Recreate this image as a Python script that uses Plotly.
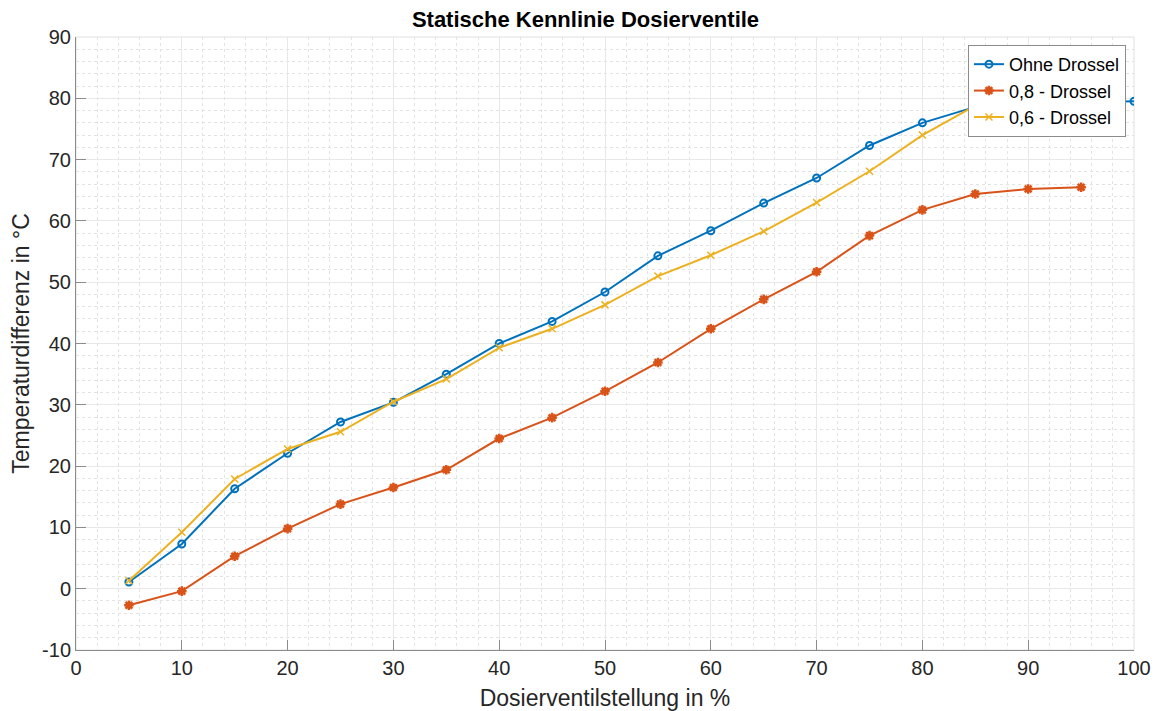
import plotly.graph_objects as go

x_blue = [5, 10, 15, 20, 25, 30, 35, 40, 45, 50, 55, 60, 65, 70, 75, 80, 85, 90, 95, 100]
y_blue = [1.1, 7.3, 16.3, 22.1, 27.2, 30.4, 35.0, 40.0, 43.6, 48.4, 54.3, 58.4, 62.9, 67.0, 72.3, 76.0, 78.6, 79.0, 79.3, 79.5]

x_red = [5, 10, 15, 20, 25, 30, 35, 40, 45, 50, 55, 60, 65, 70, 75, 80, 85, 90, 95]
y_red = [-2.7, -0.4, 5.3, 9.8, 13.8, 16.5, 19.4, 24.5, 27.9, 32.2, 36.9, 42.4, 47.2, 51.7, 57.6, 61.8, 64.4, 65.2, 65.5]

x_yel = [5, 10, 15, 20, 25, 30, 35, 40, 45, 50, 55, 60, 65, 70, 75, 80, 85]
y_yel = [1.3, 9.2, 17.9, 22.8, 25.6, 30.5, 34.2, 39.3, 42.4, 46.3, 51.0, 54.4, 58.3, 63.0, 68.1, 74.0, 78.8]

names = ["Ohne Drossel", "0,8 - Drossel", "0,6 - Drossel"]
x_ticks = list(range(0, 101, 10))
y_ticks = list(range(-10, 91, 10))
y_ticklabels = [str(v) for v in y_ticks]

font = "Liberation Sans, Arial, Helvetica, sans-serif"

fig = go.Figure()
fig.add_trace(go.Scatter(x=x_blue, y=y_blue, name=names[0], mode="lines+markers",
                         line=dict(color="#0072BD", width=2),
                         marker=dict(symbol="circle-open", size=7, color="#0072BD", line=dict(width=2))))
fig.add_trace(go.Scatter(x=x_red, y=y_red, name=names[1], mode="lines+markers",
                         line=dict(color="#D95319", width=2),
                         marker=dict(symbol="asterisk-open", size=8, color="#D95319", line=dict(width=2.5, color="#D95319"))))
fig.add_trace(go.Scatter(x=x_yel, y=y_yel, name=names[2], mode="lines+markers",
                         line=dict(color="#EDB120", width=2),
                         marker=dict(symbol="x-thin-open", size=7, color="#EDB120", line=dict(width=1.5, color="#EDB120"))))

axis_common = dict(
    showgrid=True, gridcolor="#e8e8e8", gridwidth=1,
    minor=dict(showgrid=True, gridcolor="#e3e3e3", griddash="dot", gridwidth=1, dtick=2),
    ticks="inside", ticklen=10, tickcolor="#8c8c8c", tickwidth=1,
    showline=True, linecolor="#8c8c8c", linewidth=1,
    zeroline=False, automargin=False,
    tickfont=dict(family=font, size=20, color="#262626"),
)

fig.update_xaxes(range=[0, 100], tickvals=x_ticks, **axis_common,
                 title=dict(text="Dosierventilstellung in %", font=dict(family=font, size=23, color="#262626"), standoff=12))
fig.update_yaxes(range=[-10, 90], tickvals=y_ticks, ticktext=y_ticklabels, **axis_common,
                 title=dict(text="Temperaturdifferenz in °C", font=dict(family=font, size=23, color="#262626"), standoff=6))

fig.add_shape(type="rect", xref="paper", yref="paper", x0=0, y0=0, x1=1, y1=1,
              line=dict(color="#e0e0e0", width=1), layer="below")

fig.update_layout(
    width=1155, height=703,
    margin=dict(l=68, r=29, t=29, b=61),
    paper_bgcolor="white", plot_bgcolor="white",
    title=dict(text="<b>Statische Kennlinie Dosierventile</b>", x=0.5, xanchor="center",
               y=0.984, yanchor="middle", font=dict(family=font, size=22, color="black")),
    legend=dict(x=0.9924, y=0.987, xanchor="right", yanchor="top",
                bgcolor="white", bordercolor="#8c8c8c", borderwidth=1,
                font=dict(family=font, size=18, color="black"),
                tracegroupgap=0, itemwidth=30),
    showlegend=True,
)

fig.write_html("out.html")
